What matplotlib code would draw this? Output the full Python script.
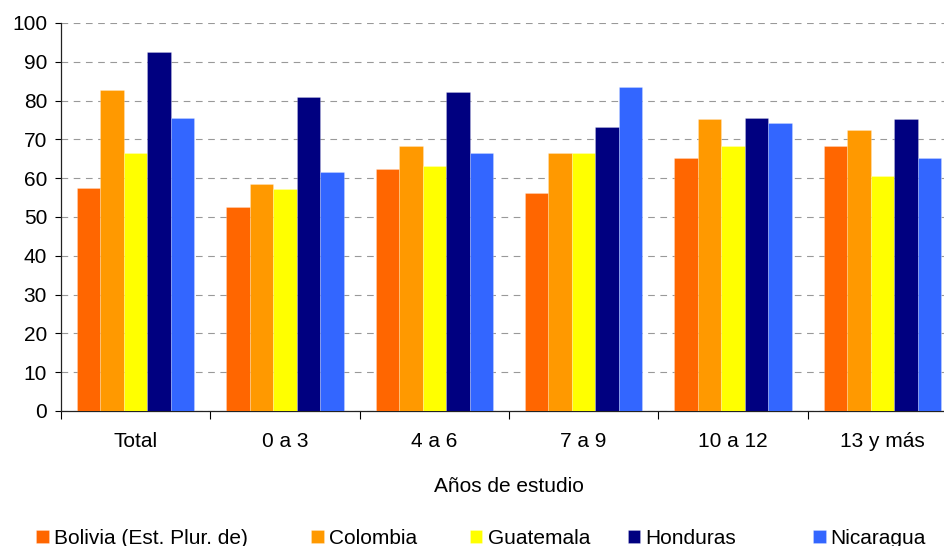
import numpy as np
import matplotlib
matplotlib.use("Agg")
import matplotlib.pyplot as plt

plt.rcParams['font.family'] = ['Liberation Sans', 'DejaVu Sans']

categorias = ['Total', '0 a 3', '4 a 6', '7 a 9', '10 a 12', '13 y más']
paises = ['Bolivia (Est. Plur. de)', 'Colombia', 'Guatemala', 'Honduras', 'Nicaragua']
colores = ['#FF6600', '#FF9900', '#FFFF00', '#000080', '#3366FF']

bolivia = [57.5, 52.5, 62.3, 56.1, 65.3, 68.4]
colombia = [82.8, 58.6, 68.4, 66.4, 75.2, 72.5]
guatemala = [66.4, 57.1, 63.2, 66.4, 68.4, 60.6]
honduras = [92.6, 80.8, 82.3, 73.1, 75.6, 75.2]
nicaragua = [75.6, 61.7, 66.4, 83.4, 74.1, 65.3]
series = [bolivia, colombia, guatemala, honduras, nicaragua]

fs = 15
# left edge (px) of each legend entry
leg_x = [36, 311, 470, 628, 813]

fig = plt.figure(figsize=(9.45, 5.46), dpi=100)
# axes a bit wider than the figure, the original is cut on the right
ax = fig.add_axes([61/945, 135/546, 896/945, 388/546])

x = np.arange(len(categorias))
width = 0.157
handles = []
for i, (vals, col) in enumerate(zip(series, colores)):
    off = (i - 2) * width
    b = ax.bar(x + off, vals, width, color=col, edgecolor=(1, 1, 1, 0.25),
               linewidth=0.6, label=paises[i], zorder=3)
    handles.append(b)

ax.set_xlim(-0.5, 5.5)
ax.set_ylim(0, 100)
ax.set_yticks(np.arange(0, 101, 10))
ax.yaxis.grid(True, color='#999999', linestyle=(0, (6, 5)), linewidth=0.8, zorder=0)
ax.set_axisbelow(True)

ax.set_xticks(x)
ax.set_xticklabels(categorias, fontsize=fs)
ax.set_xticks(np.arange(-0.5, 5.5, 1), minor=True)
ax.tick_params(axis='x', which='major', length=0, pad=15)
ax.tick_params(axis='x', which='minor', length=6, width=0.8, direction='out')
ax.tick_params(axis='y', labelsize=fs, length=4, width=0.8, pad=6)

for s in ['top', 'right']:
    ax.spines[s].set_visible(False)
for s in ['left', 'bottom']:
    ax.spines[s].set_linewidth(0.9)
    ax.spines[s].set_color('#222222')

ax.set_xlabel('Años de estudio', fontsize=fs, labelpad=19)

# one legend per entry so the spacing follows the original
for h, name, lx in zip(handles, paises, leg_x):
    fig.legend(handles=[h], labels=[name], loc='center left',
               bbox_to_anchor=(lx/945, 8/546), frameon=False, fontsize=fs,
               handlelength=0.6, handleheight=0.6, handletextpad=0.25,
               borderaxespad=0, borderpad=0)

fig.savefig('out.png', dpi=100)
